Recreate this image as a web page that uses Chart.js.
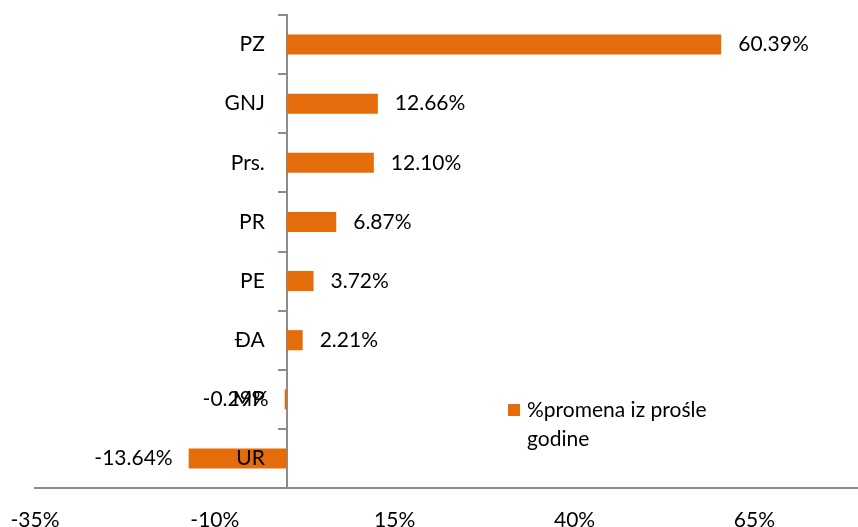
<!DOCTYPE html>
<html>
<head>
<meta charset="utf-8">
<script src="https://cdn.jsdelivr.net/npm/chart.js@4/dist/chart.umd.min.js"></script>
<style>
  html, body { margin: 0; padding: 0; background: #fff; }
  #wrap { width: 858px; height: 527px; }
</style>
</head>
<body>
<div id="wrap"><canvas id="chgChart" width="858" height="527"></canvas></div>
<script>
// kategorije i vrednosti (% promena iz prošle godine)
const categories = ['PZ', 'GNJ', 'Prs.', 'PR', 'PE', 'ĐA', 'MP', 'UR'];
const changes = [60.39, 12.66, 12.10, 6.87, 3.72, 2.21, -0.29, -13.64];
const xTicks = [-35, -10, 15, 40, 65];
const seriesName = ['%promena iz prośle', 'godine'];

const FONT = 'Lato, "Open Sans", sans-serif';
const FSIZE = 21;
const ORANGE = '#E46C0A';
const AXIS = '#8C8C8C';

// category names left of the zero line + value labels at bar ends
const barLabels = {
    id: 'barLabels',
    afterDraw(chart) {
        const ctx = chart.ctx;
        const xs = chart.scales.x;
        const ys = chart.scales.y;
        const meta = chart.getDatasetMeta(0);
        const zero = xs.getPixelForValue(0);
        ctx.save();
        ctx.font = FSIZE + 'px ' + FONT;
        ctx.fillStyle = '#000';
        ctx.textBaseline = 'middle';
        categories.forEach((c, i) => {
            ctx.textAlign = 'right';
            ctx.fillText(c, zero - 22, ys.getPixelForValue(i));
        });
        meta.data.forEach((bar, i) => {
            const v = changes[i];
            const txt = v.toFixed(2) + '%';
            if (v >= 0) {
                ctx.textAlign = 'left';
                ctx.fillText(txt, bar.x + 17, bar.y);
            } else {
                ctx.textAlign = 'right';
                ctx.fillText(txt, bar.x - 16, bar.y);
            }
        });
        ctx.restore();
    }
};

// legend inside the plot, two lines
const boxLegend = {
    id: 'boxLegend',
    afterDraw(chart) {
        const ctx = chart.ctx;
        const a = chart.chartArea;
        const x = a.left + 473;
        const y = a.top + 395;
        ctx.save();
        ctx.fillStyle = ORANGE;
        ctx.fillRect(x, y - 6, 12, 12);
        ctx.font = FSIZE + 'px ' + FONT;
        ctx.fillStyle = '#000';
        ctx.textAlign = 'left';
        ctx.textBaseline = 'middle';
        ctx.fillText(seriesName[0], x + 19, y);
        ctx.fillText(seriesName[1], x + 19, y + 29);
        ctx.restore();
    }
};

const ctx = document.getElementById('chgChart').getContext('2d');
const chgChart = new Chart(ctx, {
    type: 'bar',
    data: {
        labels: categories,
        datasets: [{
            label: seriesName.join(' '),
            data: changes,
            backgroundColor: ORANGE,
            borderWidth: 0,
            barPercentage: 0.34,
            categoryPercentage: 1
        }]
    },
    options: {
        indexAxis: 'y',
        responsive: false,
        animation: false,
        layout: { padding: { top: 15, left: 35, right: 0, bottom: 0 } },
        plugins: {
            legend: { display: false },
            tooltip: { enabled: false }
        },
        scales: {
            x: {
                min: -35,
                max: 79.4,
                afterBuildTicks(scale) {
                    scale.ticks = xTicks.map(v => ({ value: v }));
                },
                afterFit(scale) {
                    scale.height = 39;
                    scale.paddingLeft = 0;
                    scale.paddingRight = 0;
                },
                grid: { drawOnChartArea: false, drawTicks: false },
                border: { display: true, color: AXIS, width: 2 },
                ticks: {
                    padding: 20,
                    color: '#000',
                    font: { family: FONT, size: FSIZE },
                    maxRotation: 0,
                    callback: (v) => v + '%'
                }
            },
            y: {
                position: { x: 0 },
                z: 1,
                afterFit(scale) {
                    scale.width = 0;
                },
                grid: {
                    drawOnChartArea: false,
                    drawTicks: true,
                    tickLength: 8,
                    color: AXIS,
                    lineWidth: 2,
                    offset: true
                },
                border: { display: true, color: AXIS, width: 2 },
                ticks: { display: false }
            }
        }
    },
    plugins: [barLabels, boxLegend]
});
</script>
</body>
</html>
